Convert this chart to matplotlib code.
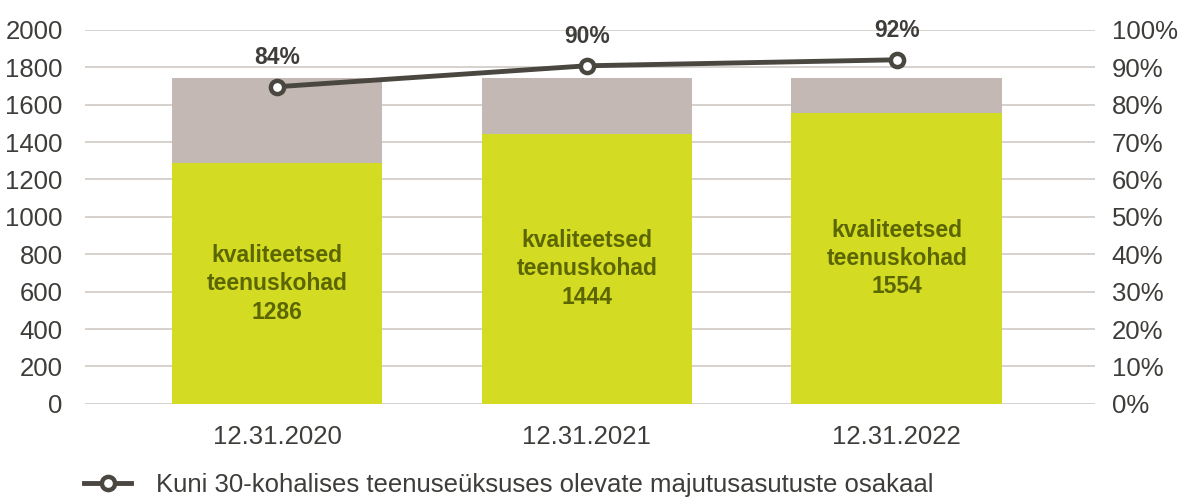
import matplotlib.pyplot as plt
import numpy as np

plt.rcParams['font.family'] = ['Liberation Sans', 'DejaVu Sans']

dates = ['12.31.2020', '12.31.2021', '12.31.2022']
quality_places = [1286, 1444, 1554]
total_places = [1740, 1740, 1740]
share_small_units = [0.848, 0.904, 0.92]
share_labels = ['84%', '90%', '92%']
bar_text = 'kvaliteetsed\nteenuskohad'
legend_label = 'Kuni 30-kohalises teenuseüksuses olevate majutusasutuste osakaal'

green = '#D3DC22'
grey = '#C3B8B3'
dark = '#4A4741'
text_col = '#3F3D3A'
grid_col = '#D6D1CD'

x = np.arange(len(dates))
rest = np.array(total_places) - np.array(quality_places)

fig = plt.figure(figsize=(11.8, 4.98), dpi=100)
ax = fig.add_axes([0.072, 0.189, 0.856, 0.751])

ax.bar(x, quality_places, width=0.68, color=green, zorder=2)
ax.bar(x, rest, bottom=quality_places, width=0.68, color=grey, zorder=2)
for xi, v in zip(x, quality_places):
    ax.text(xi, v / 2, f'{bar_text}\n{v}', ha='center', va='center',
            fontsize=16.5, fontweight='bold', color='#5C6600', linespacing=1.3, zorder=3)

ax.set_ylim(0, 2000)
ax.set_yticks(np.arange(0, 2001, 200))
ax.set_xlim(-0.62, 2.64)
ax.set_xticks(x)
ax.set_xticklabels(dates)
ax.grid(axis='y', color=grid_col, linewidth=1.4, zorder=0)
ax.set_axisbelow(True)
for s in ax.spines.values():
    s.set_visible(False)
ax.tick_params(axis='both', length=0, labelsize=18.5, colors=text_col)
ax.tick_params(axis='y', pad=16)
ax.tick_params(axis='x', pad=15)

ax2 = ax.twinx()
ax2.set_ylim(0, 1)
ax2.set_yticks(np.arange(0, 1.01, 0.1))
ax2.set_yticklabels([f'{int(round(t * 100))}%' for t in np.arange(0, 1.01, 0.1)])
for s in ax2.spines.values():
    s.set_visible(False)
ax2.tick_params(axis='y', length=0, labelsize=18.5, colors=text_col, pad=12)
line, = ax2.plot(x, share_small_units, color=dark, linewidth=3.5, marker='o',
                 markersize=9.5, markerfacecolor='white', markeredgecolor=dark,
                 markeredgewidth=3.2, label=legend_label, zorder=4)
for xi, v, lab in zip(x, share_small_units, share_labels):
    ax2.annotate(lab, (xi, v), xytext=(0, 13), textcoords='offset points',
                 ha='center', va='bottom', fontsize=16.5, fontweight='bold', color=text_col)

fig.legend(handles=[line], loc='lower left', bbox_to_anchor=(0.052, -0.045),
           frameon=False, fontsize=18.5, handlelength=1.8, handletextpad=1.0,
           labelcolor=text_col)

fig.savefig('out.png', dpi=100)
